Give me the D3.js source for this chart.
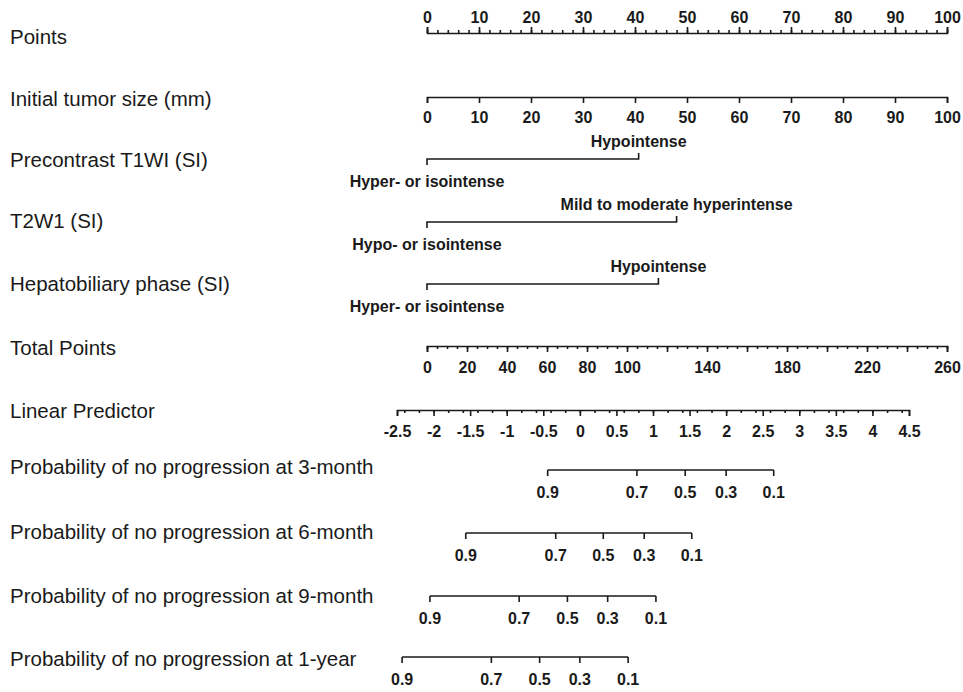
<!DOCTYPE html>
<html><head><meta charset="utf-8">
<script src="https://cdn.jsdelivr.net/npm/d3@7"></script>
<style>body{margin:0;background:#fff}</style></head>
<body><svg id="c" width="963" height="692"></svg>
<script>
// ---------------- DATA ----------------
const rowTitles = ["Points","Initial tumor size (mm)","Precontrast T1WI (SI)","T2W1 (SI)",
  "Hepatobiliary phase (SI)","Total Points","Linear Predictor",
  "Probability of no progression at 3-month","Probability of no progression at 6-month",
  "Probability of no progression at 9-month","Probability of no progression at 1-year"];
const pointsTicks = [0,10,20,30,40,50,60,70,80,90,100];
const tumorSizeTicks = [0,10,20,30,40,50,60,70,80,90,100];
const t1Levels = ["Hyper- or isointense","Hypointense"];
const t1Points = [0, 40.7];
const t2Levels = ["Hypo- or isointense","Mild to moderate hyperintense"];
const t2Points = [0, 48];
const hbpLevels = ["Hyper- or isointense","Hypointense"];
const hbpPoints = [0, 44.5];
const totalPointsTicks = [0,20,40,60,80,100,140,180,220,260];
const lpTicks = [-2.5,-2,-1.5,-1,-0.5,0,0.5,1,1.5,2,2.5,3,3.5,4,4.5];
const probTicks = [0.9,0.7,0.5,0.3,0.1];
const prob3mLP = [-0.44,0.78,1.44,2.00,2.65];
const prob6mLP = [-1.56,-0.33,0.32,0.88,1.53];
const prob9mLP = [-2.05,-0.83,-0.17,0.38,1.04];
const prob1yLP = [-2.43,-1.21,-0.55,0.00,0.66];

// ---------------- LAYOUT ----------------
const svg = d3.select("#c");
const rowY   = [33,97,159,222,284,346,410,470,533,596,657];
const titleY = [37,99,160,221,284,348,411,467,532,596,659];
const INK = "#1a1a1a";
const pointsScale = d3.scaleLinear().domain([0,100]).range([427,947]);
const tumorScale  = d3.scaleLinear().domain([0,100]).range([427,947]);
const totalScale  = d3.scaleLinear().domain([0,260]).range([427,947]);
const lpScale     = d3.scaleLinear().domain([-2.5,4.5]).range([397,909]);

// titles
svg.append("g").selectAll("text").data(rowTitles).join("text")
  .attr("x",10).attr("y",(d,i)=>titleY[i]).attr("dy","0.35em")
  .attr("font-family","'Liberation Sans', Arial, sans-serif")
  .attr("font-size",20.5).attr("fill",INK).text(d=>d);

function styleAxis(g){
  g.attr("font-family",null).attr("font-size",null);
  g.selectAll("path,line").attr("stroke",INK).attr("stroke-width",1.6);
  g.selectAll("text").attr("font-family","'Liberation Sans', Arial, sans-serif")
    .attr("font-weight","bold").attr("font-size",16).attr("fill",INK);
}

function numAxis(scale, y, labels, major, minor, up, labOff){
  const g = svg.append("g").attr("transform",`translate(0,${y})`);
  const mk = up ? d3.axisTop : d3.axisBottom;
  if (minor) {
    g.append("g").call(mk(scale).tickValues(minor).tickSize(3).tickSizeOuter(0).tickFormat(""))
      .call(s=>s.select(".domain").remove());
  }
  const key = v => Math.round(v*1000);
  const labSet = new Set(labels.map(key));
  const ax = g.append("g").call(mk(scale).tickValues(major).tickSizeOuter(6).tickSize(6)
      .tickFormat(d => labSet.has(key(d)) ? String(d) : ""));
  ax.selectAll("text").attr("y", labOff).attr("dy","0.35em");
  styleAxis(g);
}

// Points
numAxis(pointsScale, rowY[0], pointsTicks, pointsTicks, pointsScale.ticks(50), true, -16);
// Initial tumor size
numAxis(tumorScale, rowY[1], tumorSizeTicks, tumorSizeTicks, null, false, 20);

// Categorical rows
function catAxis(levels, pts, y){
  const g = svg.append("g").attr("transform",`translate(0,${y})`);
  const xs = pts.map(p=>pointsScale(p));
  g.append("path")
    .attr("d",`M${xs[0]},6V0H${xs[1]}V-6`)
    .attr("fill","none").attr("stroke",INK).attr("stroke-width",1.6);
  g.append("text").attr("x",xs[0]).attr("y",22).attr("dy","0.35em").attr("text-anchor","middle").text(levels[0]);
  g.append("text").attr("x",xs[1]).attr("y",-18).attr("dy","0.35em").attr("text-anchor","middle").text(levels[1]);
  styleAxis(g);
}
catAxis(t1Levels, t1Points, rowY[2]);
catAxis(t2Levels, t2Points, rowY[3]);
catAxis(hbpLevels, hbpPoints, rowY[4]);

// Total points
numAxis(totalScale, rowY[5], totalPointsTicks, totalScale.ticks(13), totalScale.ticks(52), false, 21);
// Linear predictor
numAxis(lpScale, rowY[6], lpTicks, lpTicks, lpScale.ticks(28), false, 21);

// Probability rows
function probAxis(lps, y){
  const g = svg.append("g").attr("transform",`translate(0,${y})`);
  const xs = lps.map(v=>lpScale(v));
  g.append("line").attr("x1",d3.min(xs)).attr("x2",d3.max(xs)).attr("y1",0).attr("y2",0);
  g.selectAll("line.t").data(xs).join("line").attr("class","t")
    .attr("x1",d=>d).attr("x2",d=>d).attr("y1",0).attr("y2",6);
  g.selectAll("text").data(probTicks).join("text")
    .attr("x",(d,i)=>xs[i]).attr("y",22).attr("dy","0.35em").attr("text-anchor","middle")
    .text(d=>String(d));
  styleAxis(g);
}
probAxis(prob3mLP, rowY[7]);
probAxis(prob6mLP, rowY[8]);
probAxis(prob9mLP, rowY[9]);
probAxis(prob1yLP, rowY[10]);
</script></body></html>
